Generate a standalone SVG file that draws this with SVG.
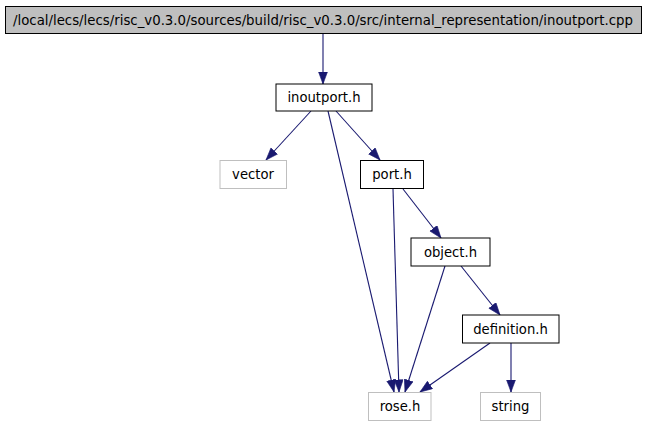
<svg xmlns="http://www.w3.org/2000/svg" width="648" height="427" viewBox="0 0 648 427">
<style>
text{font-family:"DejaVu Sans","Noto Sans",sans-serif;font-size:13.2px;fill:#000;text-anchor:middle}
.n rect{fill:#fff;stroke:#000;stroke-width:1}
.g rect{fill:#fff;stroke:#bfbfbf;stroke-width:1}
.root rect{fill:#bfbfbf;stroke:#000;stroke-width:1}
#edges path{fill:none;stroke:#191970;stroke-width:1.1;marker-end:url(#ah)}
</style>
<defs>
<marker id="ah" markerUnits="userSpaceOnUse" markerWidth="13" markerHeight="10" refX="12.5" refY="4.8" orient="auto">
<path d="M0.3,0.3 L12.5,4.8 L0.3,9.3 z" fill="#191970" stroke="#191970" stroke-width="0.6"/>
</marker>
</defs>
<rect width="648" height="427" fill="#fff"/>
<g id="edges">
<path d="M323,33 L323,84"/>
<path d="M311,111 L266,160"/>
<path d="M336,111 L380,160"/>
<path d="M328,111 L394,392"/>
<path d="M393,189 L399,392"/>
<path d="M403,189 L441,238"/>
<path d="M445,266 L405,392"/>
<path d="M461,266 L500,315"/>
<path d="M490,343 L420,392"/>
<path d="M511,343 L511,392"/>
</g>
<g id="root" class="root"><rect x="5.5" y="6.5" width="636" height="27"/><text x="323" y="24.5" textLength="620" lengthAdjust="spacingAndGlyphs">/local/lecs/lecs/risc_v0.3.0/sources/build/risc_v0.3.0/src/internal_representation/inoutport.cpp</text></g>
<g id="inoutport" class="n"><rect x="276" y="84" width="96" height="27"/><text x="324" y="102">inoutport.h</text></g>
<g id="vector" class="g"><rect x="220" y="160.5" width="66.5" height="28"/><text x="253" y="179">vector</text></g>
<g id="port" class="n"><rect x="360.5" y="160.5" width="63" height="28"/><text x="392" y="179">port.h</text></g>
<g id="object" class="n"><rect x="411" y="238" width="79" height="28"/><text x="450.5" y="256.5">object.h</text></g>
<g id="definition" class="n"><rect x="462.5" y="315" width="96.5" height="28"/><text x="510.5" y="333.5">definition.h</text></g>
<g id="rose" class="g"><rect x="368.5" y="392.5" width="62.5" height="28"/><text x="400" y="411">rose.h</text></g>
<g id="string" class="g"><rect x="480.5" y="392.5" width="60" height="28"/><text x="510.5" y="411">string</text></g>
</svg>
